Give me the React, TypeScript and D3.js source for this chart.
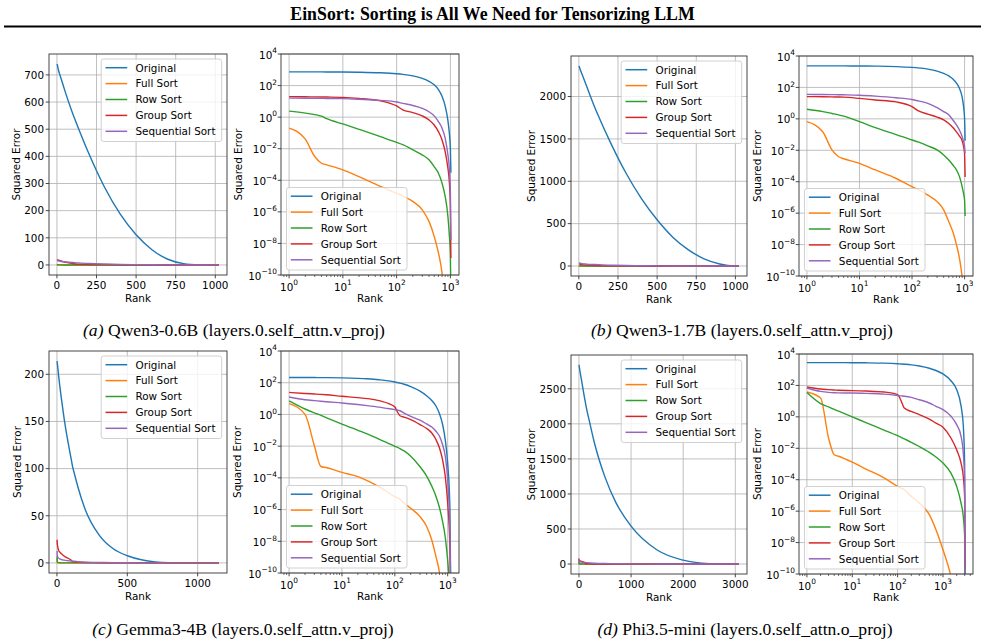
import * as d3 from "d3";

const SERIES = ["Original", "Full Sort", "Row Sort", "Group Sort", "Sequential Sort"];
const COLORS = ["#1f77b4", "#ff7f0e", "#2ca02c", "#d62728", "#9467bd"];

// Qwen3-0.6B, layers.0.self_attn.v_proj
const QWEN06_RANKS = [1, 2, 3, 4, 5, 10, 20, 50, 100, 130, 200, 300, 400, 500, 600, 700, 800, 900, 950, 1000, 1023];
const QWEN06_ORIGINAL = [740, 738, 736, 733, 730, 717, 698, 642, 557, 512, 412, 287, 187, 111, 56, 21, 5, 0.6, 0.12, 0.01, 3e-4];
const QWEN06_FULL = [0.2, 0.04, 3.2e-3, 1.2e-3, 9.5e-4, 4.6e-4, 1.7e-4, 4.1e-5, 1.5e-5, 1.0e-5, 4.6e-6, 1.35e-6, 2.5e-7, 2.8e-8, 2.5e-9, 1.3e-10, 1e-12, 1e-13, 1e-13, 1e-14, 1e-15];
const QWEN06_ROW = [2.4, 1.8, 1.45, 1.15, 0.8, 0.37, 0.17, 0.059, 0.025, 0.018, 8.5e-3, 4.1e-3, 2.0e-3, 7.4e-4, 2.8e-4, 6.6e-5, 9.5e-6, 5.1e-7, 4.6e-8, 1.6e-9, 1e-11];
const QWEN06_GROUP = [20, 19.5, 19.2, 19, 18.8, 18, 15.5, 10.7, 5.1, 2.9, 1.95, 1.2, 0.67, 0.32, 0.12, 0.036, 6.6e-3, 5.9e-4, 1.1e-4, 2.5e-6, 1.2e-9];
const QWEN06_SEQ = [16, 15.8, 15.6, 15.5, 15.3, 14.8, 13.5, 11.5, 9.1, 7.5, 5.5, 3.6, 2.2, 1.2, 0.52, 0.2, 0.047, 4.1e-3, 7.4e-4, 1.6e-5, 1.6e-8];

// Qwen3-1.7B, layers.0.self_attn.v_proj
const QWEN17_RANKS = [1, 2, 3, 4, 5, 10, 20, 50, 100, 130, 200, 300, 400, 500, 600, 700, 800, 900, 950, 1000, 1023];
const QWEN17_ORIGINAL = [2360, 2355, 2350, 2345, 2340, 2312, 2265, 2120, 1880, 1750, 1465, 1100, 795, 545, 340, 190, 85, 24, 7.5, 1.0, 0.04];
const QWEN17_FULL = [0.66, 0.15, 0.0105, 3.9e-3, 2.9e-3, 1.48e-3, 5.6e-4, 1.6e-4, 4.8e-5, 3.2e-5, 1.4e-5, 5.4e-6, 1.6e-6, 2.9e-7, 6.3e-8, 1e-8, 1.3e-9, 8e-11, 1e-11, 1e-12, 1e-13];
const QWEN17_ROW = [4.1, 2.9, 2.2, 1.8, 1.5, 0.66, 0.28, 0.1, 0.045, 0.034, 0.019, 0.0105, 5.0e-3, 2.4e-3, 1.15e-3, 5.6e-4, 2.1e-4, 4.8e-5, 2e-5, 6.9e-6, 6.6e-7];
const QWEN17_GROUP = [26, 25.5, 25, 24.5, 24, 20, 16, 12, 6, 3.3, 2.0, 1.3, 0.85, 0.5, 0.28, 0.15, 0.08, 0.04, 0.02, 6e-3, 2e-4];
const QWEN17_SEQ = [36, 35.5, 35, 34.5, 34, 32, 28, 22, 17, 14, 9.7, 5.1, 2.9, 1.8, 0.85, 0.41, 0.19, 0.074, 0.04, 0.017, 6.5e-3];

// Gemma3-4B, layers.0.self_attn.v_proj
const GEMMA_RANKS = [1, 2, 3, 4, 5, 10, 20, 30, 50, 100, 110, 125, 150, 200, 300, 400, 500, 600, 700, 800, 900, 1000, 1100, 1151];
const GEMMA_ORIGINAL = [214, 212.6, 211.2, 209.8, 208.4, 201, 188, 176, 154, 111, 103, 94, 80, 57, 29.5, 15, 7.6, 3.4, 1.1, 0.24, 0.025, 8e-4, 1.5e-6, 1e-12];
const GEMMA_FULL = [4.8, 1.0, 0.011, 5.2e-4, 4.5e-4, 2.2e-4, 1.2e-4, 6.8e-5, 2.8e-5, 6.6e-6, 5.6e-6, 4.5e-6, 2.5e-6, 1.2e-6, 3.6e-7, 8.5e-8, 1.2e-8, 1.07e-9, 1e-10, 1e-12, 1e-13, 1e-13, 1e-14, 1e-14];
const GEMMA_ROW = [7.1, 2.2, 1.26, 0.87, 0.63, 0.245, 0.1, 0.059, 0.028, 9.8e-3, 8.6e-3, 7e-3, 5e-3, 2.3e-3, 5e-4, 1.3e-4, 3e-5, 7e-6, 1.3e-6, 1.8e-7, 1.8e-8, 6e-10, 1e-11, 1e-12];
const GEMMA_GROUP = [24.5, 21, 19.5, 18.5, 17.5, 14, 11.5, 10, 7.4, 3.0, 1.6, 0.83, 0.68, 0.47, 0.23, 0.13, 0.068, 0.026, 7.6e-3, 1.4e-3, 1.26e-4, 2.5e-6, 5e-9, 1e-12];
const GEMMA_SEQ = [12.6, 8.5, 7.4, 6.8, 6.3, 5.3, 4.2, 3.6, 2.9, 2.0, 1.9, 1.7, 1.2, 0.75, 0.43, 0.25, 0.16, 0.087, 0.042, 0.0126, 2.3e-3, 8e-5, 5e-8, 1e-12];

// Phi3.5-mini, layers.0.self_attn.o_proj
const PHI_RANKS = [1, 2, 3, 4, 5, 10, 20, 50, 100, 120, 140, 200, 300, 500, 700, 1000, 1500, 2000, 2500, 2800, 3000, 3071];
const PHI_ORIGINAL = [2840, 2836, 2832, 2828, 2824, 2795, 2750, 2620, 2400, 2320, 2240, 2040, 1720, 1240, 890, 540, 200, 55, 5, 0.3, 1e-3, 1e-12];
const PHI_FULL = [38, 16, 0.045, 3.9e-3, 3.1e-3, 1.3e-3, 4.8e-4, 1.3e-4, 3.8e-5, 2.9e-5, 2.3e-5, 8.7e-6, 3.3e-6, 6e-7, 6.6e-8, 3.5e-9, 7e-11, 1e-12, 1e-13, 1e-13, 1e-14, 1e-14];
const PHI_ROW = [35, 7, 4.3, 3.0, 2.3, 1.0, 0.43, 0.145, 0.063, 0.05, 0.04, 0.024, 0.013, 5.5e-3, 2.8e-3, 1.15e-3, 2.6e-4, 3.8e-5, 3.3e-6, 4.7e-7, 2.5e-8, 1e-12];
const PHI_GROUP = [80, 59, 54, 51, 49, 47, 44, 38, 26, 10, 3.6, 2.2, 1.4, 0.72, 0.4, 0.22, 0.045, 8e-3, 1.15e-3, 1.6e-4, 8.7e-6, 2e-10];
const PHI_SEQ = [69, 42, 36, 34, 33.5, 33, 31, 28, 23, 21.5, 20.5, 17.4, 12.3, 7.6, 4.7, 2.9, 1.1, 0.32, 0.058, 5e-3, 1e-4, 1e-12];

// tick values
const QWEN06_Y_TICKS = [0, 100, 200, 300, 400, 500, 600, 700];
const QWEN17_Y_TICKS = [0, 500, 1000, 1500, 2000];
const GEMMA_Y_TICKS = [0, 50, 100, 150, 200];
const PHI_Y_TICKS = [0, 500, 1000, 1500, 2000, 2500];
const X_TICKS_1K = [0, 250, 500, 750, 1000];
const GEMMA_X_TICKS = [0, 500, 1000];
const PHI_X_TICKS = [0, 1000, 2000, 3000];
const LOG_X_EXP = [0, 1, 2, 3];
const LOG_Y_EXP = [-10, -8, -6, -4, -2, 0, 2, 4];

const CAPTIONS = [
  { tag: "(a)", text: "Qwen3-0.6B (layers.0.self_attn.v_proj)" },
  { tag: "(b)", text: "Qwen3-1.7B (layers.0.self_attn.v_proj)" },
  { tag: "(c)", text: "Gemma3-4B (layers.0.self_attn.v_proj)" },
  { tag: "(d)", text: "Phi3.5-mini (layers.0.self_attn.o_proj)" },
];

type Model = { ranks: number[]; values: number[][] };

const QWEN06: Model = { ranks: QWEN06_RANKS, values: [QWEN06_ORIGINAL, QWEN06_FULL, QWEN06_ROW, QWEN06_GROUP, QWEN06_SEQ] };
const QWEN17: Model = { ranks: QWEN17_RANKS, values: [QWEN17_ORIGINAL, QWEN17_FULL, QWEN17_ROW, QWEN17_GROUP, QWEN17_SEQ] };
const GEMMA: Model = { ranks: GEMMA_RANKS, values: [GEMMA_ORIGINAL, GEMMA_FULL, GEMMA_ROW, GEMMA_GROUP, GEMMA_SEQ] };
const PHI: Model = { ranks: PHI_RANKS, values: [PHI_ORIGINAL, PHI_FULL, PHI_ROW, PHI_GROUP, PHI_SEQ] };

const SANS = "'DejaVu Sans', sans-serif";
const SERIF = "'Liberation Serif', 'Times New Roman', serif";
const FS = 10.4;
const GRID = "#b0b0b0";
const SPINE = "#333";

type Box = [number, number, number, number];

function Legend({ left, top }: { left: number; top: number }) {
  return (
    <g>
      <rect x={left} y={top} width={120.5} height={82.5} rx={2.5}
        fill="white" fillOpacity={0.8} stroke="#cccccc" strokeWidth={0.9} />
      {SERIES.map((s, i) => {
        const cy = top + 8.7 + i * 15.9;
        return (
          <g key={s}>
            <line x1={left + 4.3} x2={left + 26} y1={cy} y2={cy} stroke={COLORS[i]} strokeWidth={1.5} />
            <text x={left + 34.3} y={cy + 3.8} fontSize={FS} fill="#000">{s}</text>
          </g>
        );
      })}
    </g>
  );
}

function Frame({ box }: { box: Box }) {
  const [x0, y0, x1, y1] = box;
  return <rect x={x0} y={y0} width={x1 - x0} height={y1 - y0} fill="none" stroke={SPINE} strokeWidth={0.9} />;
}

function LinearPanel({ id, model, box, xTicks, yTicks, labelX }:
  { id: string; model: Model; box: Box; xTicks: number[]; yTicks: number[]; labelX: number }) {
  const [x0, y0, x1, y1] = box;
  const xMin = d3.min(model.ranks)!, xMax = d3.max(model.ranks)!;
  const all = model.values.flat();
  const yMin = d3.min(all)!, yMax = d3.max(all)!;
  const xPad = (xMax - xMin) * 0.05, yPad = (yMax - yMin) * 0.05;
  const x = d3.scaleLinear().domain([xMin - xPad, xMax + xPad]).range([x0, x1]);
  const y = d3.scaleLinear().domain([yMin - yPad, yMax + yPad]).range([y1, y0]);
  const line = d3.line<number>().x((_, i) => x(model.ranks[i])).y(v => y(v)).curve(d3.curveMonotoneX);
  return (
    <g fontFamily={SANS}>
      <defs>
        <clipPath id={id}><rect x={x0} y={y0} width={x1 - x0} height={y1 - y0} /></clipPath>
      </defs>
      {xTicks.map(t => <line key={"gx" + t} x1={x(t)} x2={x(t)} y1={y0} y2={y1} stroke={GRID} strokeWidth={0.8} />)}
      {yTicks.map(t => <line key={"gy" + t} x1={x0} x2={x1} y1={y(t)} y2={y(t)} stroke={GRID} strokeWidth={0.8} />)}
      <g clipPath={`url(#${id})`}>
        {model.values.map((vals, i) => (
          <path key={i} d={line(vals) || ""} fill="none" stroke={COLORS[i]} strokeWidth={1.4} />
        ))}
      </g>
      <Frame box={box} />
      {xTicks.map(t => (
        <g key={"tx" + t}>
          <line x1={x(t)} x2={x(t)} y1={y1} y2={y1 + 3.3} stroke={SPINE} strokeWidth={0.9} />
          <text x={x(t)} y={y1 + 14.3} fontSize={FS} textAnchor="middle">{t}</text>
        </g>
      ))}
      {yTicks.map(t => (
        <g key={"ty" + t}>
          <line x1={x0 - 3.3} x2={x0} y1={y(t)} y2={y(t)} stroke={SPINE} strokeWidth={0.9} />
          <text x={x0 - 5} y={y(t) + 3.8} fontSize={FS} textAnchor="end">{t}</text>
        </g>
      ))}
      <text x={(x0 + x1) / 2} y={y1 + 26.5} fontSize={FS} textAnchor="middle">Rank</text>
      <text transform={`translate(${labelX},${(y0 + y1) / 2}) rotate(-90)`} fontSize={FS}
        textAnchor="middle" dominantBaseline="central">Squared Error</text>
      <Legend left={x1 - 5.3 - 120.5} top={y0 + 5} />
    </g>
  );
}

function Pow10({ x, y, exp, anchor }: { x: number; y: number; exp: number; anchor: "middle" | "end" }) {
  const e = exp < 0 ? "\u2212" + Math.abs(exp) : String(exp);
  return (
    <text x={x} y={y} fontSize={FS} textAnchor={anchor}>
      10<tspan fontSize={7.4} dy={-5.2}>{e}</tspan>
    </text>
  );
}

function LogPanel({ id, model, box, labelX }: { id: string; model: Model; box: Box; labelX: number }) {
  const [x0, y0, x1, y1] = box;
  const lo = Math.log10(d3.min(model.ranks)!), hi = Math.log10(d3.max(model.ranks)!);
  const m = (hi - lo) * 0.05;
  const x = d3.scaleLog().domain([10 ** (lo - m), 10 ** (hi + m)]).range([x0, x1]);
  const y = d3.scaleLog().domain([1e-10, 1e4]).range([y1, y0]);
  const line = d3.line<number>().x((_, i) => x(model.ranks[i])).y(v => y(v)).curve(d3.curveMonotoneX);
  const [dLo, dHi] = x.domain();
  const minor: number[] = [];
  for (let k = -1; k <= 4; k++) {
    for (let s = 2; s <= 9; s++) {
      const v = s * 10 ** k;
      if (v > dLo && v < dHi) minor.push(v);
    }
  }
  return (
    <g fontFamily={SANS}>
      <defs>
        <clipPath id={id}><rect x={x0} y={y0} width={x1 - x0} height={y1 - y0} /></clipPath>
      </defs>
      {LOG_X_EXP.map(e => <line key={"gx" + e} x1={x(10 ** e)} x2={x(10 ** e)} y1={y0} y2={y1} stroke={GRID} strokeWidth={0.8} />)}
      {LOG_Y_EXP.map(e => <line key={"gy" + e} x1={x0} x2={x1} y1={y(10 ** e)} y2={y(10 ** e)} stroke={GRID} strokeWidth={0.8} />)}
      <g clipPath={`url(#${id})`}>
        {model.values.map((vals, i) => (
          <path key={i} d={line(vals) || ""} fill="none" stroke={COLORS[i]} strokeWidth={1.4} />
        ))}
      </g>
      <Frame box={box} />
      {minor.map(v => <line key={"mx" + v} x1={x(v)} x2={x(v)} y1={y1} y2={y1 + 2} stroke={SPINE} strokeWidth={0.7} />)}
      {LOG_X_EXP.map(e => (
        <g key={"tx" + e}>
          <line x1={x(10 ** e)} x2={x(10 ** e)} y1={y1} y2={y1 + 3.3} stroke={SPINE} strokeWidth={0.9} />
          <Pow10 x={x(10 ** e)} y={y1 + 15.5} exp={e} anchor="middle" />
        </g>
      ))}
      {LOG_Y_EXP.map(e => (
        <g key={"ty" + e}>
          <line x1={x0 - 3.3} x2={x0} y1={y(10 ** e)} y2={y(10 ** e)} stroke={SPINE} strokeWidth={0.9} />
          <Pow10 x={x0 - 4} y={y(10 ** e) + 4.5} exp={e} anchor="end" />
        </g>
      ))}
      <text x={(x0 + x1) / 2} y={y1 + 27} fontSize={FS} textAnchor="middle">Rank</text>
      <text transform={`translate(${labelX},${(y0 + y1) / 2}) rotate(-90)`} fontSize={FS}
        textAnchor="middle" dominantBaseline="central">Squared Error</text>
      <Legend left={x0 + 5.5} top={y1 - 5 - 82.5} />
    </g>
  );
}

function Caption({ cx, y, tag, text }: { cx: number; y: number; tag: string; text: string }) {
  return (
    <text x={cx} y={y} fontFamily={SERIF} fontSize={17.6} textAnchor="middle">
      <tspan fontStyle="italic">{tag}</tspan> {text}
    </text>
  );
}

export default function App() {
  return (
    <svg width={985} height={642} style={{ position: "absolute", left: 0, top: 0, background: "#fff" }}>
      <rect width={985} height={642} fill="#fff" />
      <text x={492.5} y={20} fontFamily={SERIF} fontSize={17.8} fontWeight="bold" textAnchor="middle">
        EinSort: Sorting is All We Need for Tensorizing LLM
      </text>
      <line x1={4} x2={981} y1={26.5} y2={26.5} stroke="#000" strokeWidth={2} />

      <LinearPanel id="c-a-lin" model={QWEN06} box={[49, 54, 227, 275]} xTicks={X_TICKS_1K} yTicks={QWEN06_Y_TICKS} labelX={15.7} />
      <LogPanel id="c-a-log" model={QWEN06} box={[281, 54, 459, 275]} labelX={237.5} />
      <LinearPanel id="c-b-lin" model={QWEN17} box={[571, 56, 747, 276]} xTicks={X_TICKS_1K} yTicks={QWEN17_Y_TICKS} labelX={531} />
      <LogPanel id="c-b-log" model={QWEN17} box={[799, 56, 973, 276]} labelX={756.7} />

      <LinearPanel id="c-c-lin" model={GEMMA} box={[49, 351, 227, 573]} xTicks={GEMMA_X_TICKS} yTicks={GEMMA_Y_TICKS} labelX={16.7} />
      <LogPanel id="c-c-log" model={GEMMA} box={[281, 351, 459, 573]} labelX={237} />
      <LinearPanel id="c-d-lin" model={PHI} box={[571, 355, 747, 574]} xTicks={PHI_X_TICKS} yTicks={PHI_Y_TICKS} labelX={531} />
      <LogPanel id="c-d-log" model={PHI} box={[799, 354, 973, 574]} labelX={756.7} />

      <Caption cx={234} y={336} tag={CAPTIONS[0].tag} text={CAPTIONS[0].text} />
      <Caption cx={742} y={336} tag={CAPTIONS[1].tag} text={CAPTIONS[1].text} />
      <Caption cx={243} y={635} tag={CAPTIONS[2].tag} text={CAPTIONS[2].text} />
      <Caption cx={745} y={635} tag={CAPTIONS[3].tag} text={CAPTIONS[3].text} />
    </svg>
  );
}
